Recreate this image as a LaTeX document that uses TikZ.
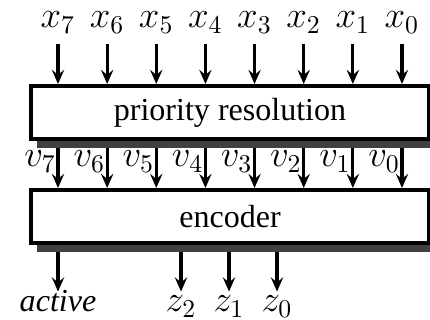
\documentclass[tikz,border=0pt,12pt]{standalone}
\usepackage{fontspec}
\setmainfont{Liberation Serif}
\usetikzlibrary{arrows.meta,shadows,backgrounds}

\begin{document}
\begin{tikzpicture}[x=0.39pt,y=0.39pt,
    block/.style={draw,line width=1.56pt,fill=white,inner sep=0pt,font=\fontsize{12.5}{15}\selectfont,
      minimum width=155.2pt,minimum height=20.7pt,
      drop shadow={shadow xshift=2.3pt,shadow yshift=-3.5pt,fill=black!75,opacity=1}},
    sig/.style={line width=1.2pt,-{Stealth[length=5.5pt,width=4.8pt,inset=2pt]}},
    inlab/.style={anchor=base,font=\large,text depth=2.9pt,inner sep=3pt},
    vlab/.style={anchor=base east,font=\large,inner sep=0pt},
    outlab/.style={anchor=base,font=\large,text height=6.8pt,inner sep=1pt}]
    \useasboundingbox (0,0) rectangle (430,320);
    \node[block] (prio) at (230,207.5) {priority resolution};
    \node[block] (enc) at (230,103.5) {encoder};
    % inputs and the lines between the two blocks
    \foreach \i in {0,...,7} {
      \pgfmathsetmacro\x{58+49.14*(7-\i)}
      \node[inlab] (x\i) at (\x,292) {$x_\i$};
      \coordinate (c\i) at (\x,0);
      \node[vlab] (v\i) at (\x-1.5,153) {$v_\i$};
      \begin{scope}[on background layer]
        \draw[sig] (x\i.south) -- (x\i.south |- prio.north);
        \draw[sig] (prio.south -| c\i) -- (enc.north -| c\i);
      \end{scope}
    }
    % outputs
    \node[outlab,font=\fontsize{12.5}{15}\selectfont] (act) at (58,8) {\textit{active}};
    \node[outlab] (z2) at (181,8) {$z_2$};
    \node[outlab] (z1) at (229,8) {$z_1$};
    \node[outlab] (z0) at (277,8) {$z_0$};
    \begin{scope}[on background layer]
      \foreach \o in {act,z2,z1,z0}
        \draw[sig] (enc.south -| \o.north) -- (\o.north);
    \end{scope}
\end{tikzpicture}
\end{document}
